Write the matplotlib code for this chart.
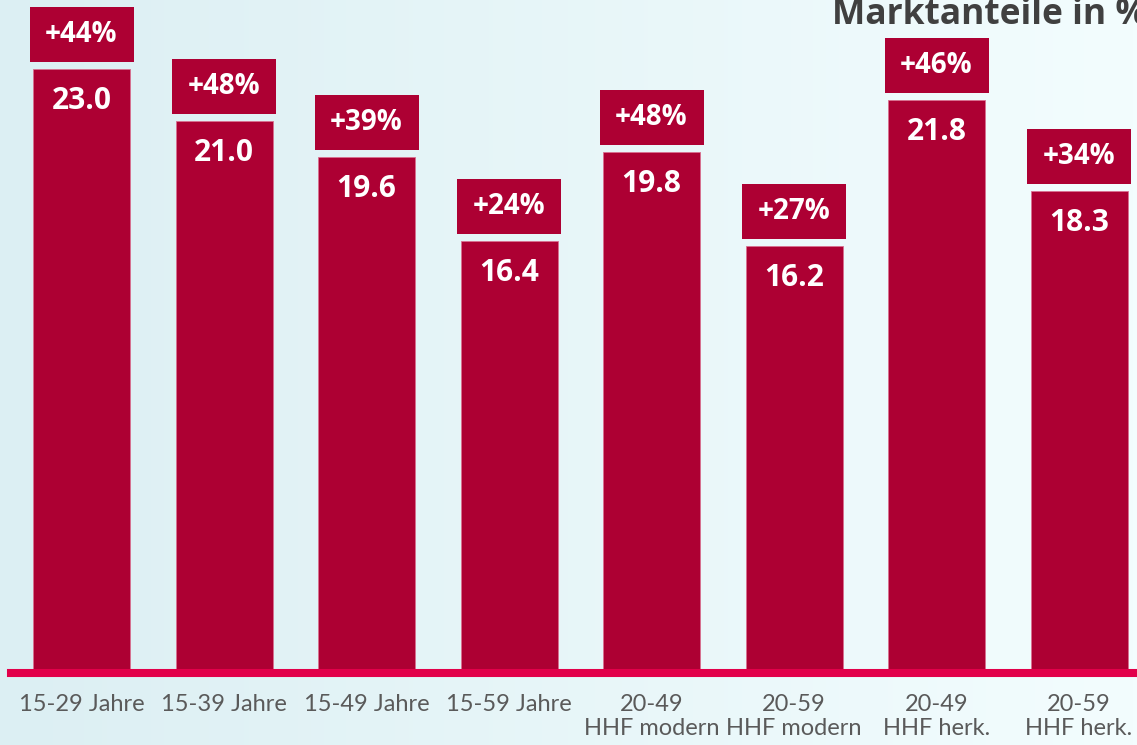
import matplotlib
matplotlib.use("Agg")
import matplotlib.pyplot as plt
import numpy as np
from matplotlib.patches import Rectangle

categories = ["15-29 Jahre", "15-39 Jahre", "15-49 Jahre", "15-59 Jahre",
              "20-49\nHHF modern", "20-59\nHHF modern", "20-49\nHHF herk.", "20-59\nHHF herk."]
values = [23.0, 21.0, 19.6, 16.4, 19.8, 16.2, 21.8, 18.3]
changes = ["+44%", "+48%", "+39%", "+24%", "+48%", "+27%", "+46%", "+34%"]

W, H = 1137, 745
fig = plt.figure(figsize=(W / 100, H / 100), dpi=100)

# background gradient
bg = fig.add_axes([0, 0, 1, 1], zorder=0)
bg.axis("off")
c1 = np.array([0xdc, 0xef, 0xf3]) / 255
c2 = np.array([0xf3, 0xfd, 0xfe]) / 255
t = np.linspace(0, 1, 256)
grad = (c1[None, :] * (1 - t[:, None]) + c2[None, :] * t[:, None])[None, :, :]
bg.imshow(grad, aspect="auto", extent=[0, 1, 0, 1])

bar_color = "#ad0033"
base_px = 670
line_px = 673
px_per_unit = 26.15
spacing = 142.5
left_px = 11

ax = fig.add_axes([left_px / W, (H - line_px) / H, 1 - left_px / W, line_px / H], zorder=1)
ax.patch.set_alpha(0)
x0 = -(81.5 - left_px) / spacing
ax.set_xlim(x0, x0 + (W - left_px) / spacing)
ax.set_ylim(-(line_px - base_px) / px_per_unit, base_px / px_per_unit)

x = np.arange(len(values))
bw = 97 / spacing
ax.bar(x, values, width=bw, color=bar_color, edgecolor="#d97090", linewidth=0.6, zorder=2)

gap = 7 / px_per_unit
box_h = 55 / px_per_unit
box_w = 104 / spacing
for xi, v, ch in zip(x, values, changes):
    ax.add_patch(Rectangle((xi - box_w / 2, v + gap), box_w, box_h,
                           facecolor=bar_color, edgecolor="none", zorder=2, clip_on=False))
    ax.text(xi, v + gap + box_h / 2, ch, ha="center", va="center", color="white",
            fontsize=20, fontweight="bold", family="Open Sans", zorder=3, clip_on=False)
    ax.text(xi, v - 32 / px_per_unit, f"{v:.1f}", ha="center", va="center", color="white",
            fontsize=21.5, fontweight="bold", family="Open Sans", zorder=3)

for s in ["top", "right", "left"]:
    ax.spines[s].set_visible(False)
ax.spines["bottom"].set_color("#e2004a")
ax.spines["bottom"].set_linewidth(5.8)
ax.spines["bottom"].set_zorder(4)
ax.set_yticks([])
ax.set_xticks(x)
ax.set_xticklabels(categories, fontsize=17, color="#5a5a5a", family="Lato",
                   fontweight="normal", linespacing=1.2, va="top")
ax.tick_params(axis="x", length=0, pad=15)
for lbl in ax.get_xticklabels():
    lbl.set_multialignment("center")

fig.text(832 / W, 1 - 24 / H, "Marktanteile in %", ha="left", va="baseline",
         fontsize=25.5, fontweight="bold", color="#404040", family="Open Sans", zorder=5)

fig.savefig("out.png", dpi=100)
